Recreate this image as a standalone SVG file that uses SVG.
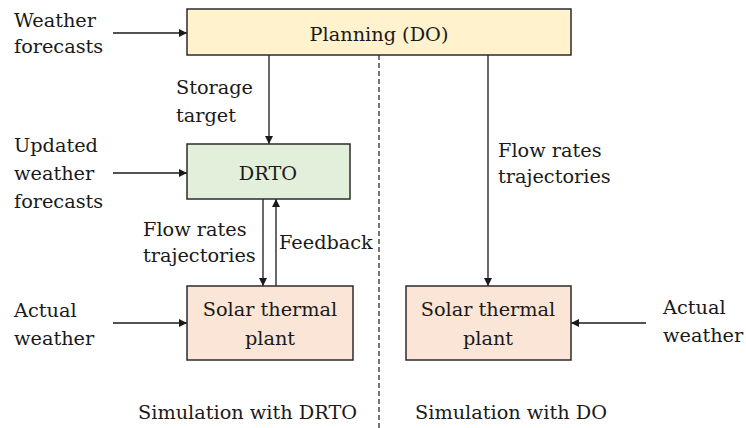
<svg xmlns="http://www.w3.org/2000/svg" width="746" height="428" viewBox="0 0 746 428">
<style>
text{font-family:"DejaVu Serif","Liberation Serif",serif;font-size:19.3px;fill:#1a1a1a}
.c{text-anchor:middle}
.box{stroke:#2b2b2b;stroke-width:1.5}
.ln{stroke:#1a1a1a;stroke-width:1.3;fill:none}
</style>
<defs>
<marker id="ah" viewBox="0 0 10 10" refX="10" refY="5" markerWidth="8" markerHeight="8" markerUnits="userSpaceOnUse" orient="auto">
<path d="M0,0 L10,5 L0,10 z" fill="#1a1a1a"/>
</marker>
</defs>
<rect width="746" height="428" fill="#fff"/>
<g id="connectors">
<line class="ln" x1="113" y1="33" x2="187" y2="33" marker-end="url(#ah)"/>
<line class="ln" x1="269" y1="55" x2="269" y2="144" marker-end="url(#ah)"/>
<line class="ln" x1="113" y1="173" x2="187" y2="173" marker-end="url(#ah)"/>
<line class="ln" x1="263" y1="199" x2="263" y2="286" marker-end="url(#ah)"/>
<line class="ln" x1="276" y1="286" x2="276" y2="199" marker-end="url(#ah)"/>
<line class="ln" x1="113" y1="323" x2="187" y2="323" marker-end="url(#ah)"/>
<line class="ln" x1="488" y1="55" x2="488" y2="286" marker-end="url(#ah)"/>
<line class="ln" x1="646" y1="323" x2="571" y2="323" marker-end="url(#ah)"/>
<line x1="379" y1="55" x2="379" y2="428" stroke="#1a1a1a" stroke-width="1.2" stroke-dasharray="5,3"/>
</g>
<g id="planning">
<rect class="box" x="187" y="9" width="384" height="46" fill="#FFF2CC"/>
<text class="c" x="379" y="41">Planning (DO)</text>
</g>
<g id="drto">
<rect class="box" x="187" y="144" width="163" height="55" fill="#E2EFDA"/>
<text class="c" x="268" y="180">DRTO</text>
</g>
<g id="plant-drto">
<rect class="box" x="187" y="286" width="166" height="74" fill="#FBE5D6"/>
<text class="c" x="270" y="316">Solar thermal</text>
<text class="c" x="270" y="345">plant</text>
</g>
<g id="plant-do">
<rect class="box" x="406" y="286" width="165" height="74" fill="#FBE5D6"/>
<text class="c" x="488" y="316">Solar thermal</text>
<text class="c" x="488" y="345">plant</text>
</g>
<g id="labels">
<text x="14" y="27">Weather</text>
<text x="14" y="53">forecasts</text>
<text x="176" y="94">Storage</text>
<text x="176" y="122">target</text>
<text x="14" y="152">Updated</text>
<text x="14" y="180">weather</text>
<text x="14" y="208">forecasts</text>
<text x="143" y="236">Flow rates</text>
<text x="143" y="262">trajectories</text>
<text x="279" y="249">Feedback</text>
<text x="14" y="317">Actual</text>
<text x="14" y="345">weather</text>
<text x="498" y="157">Flow rates</text>
<text x="498" y="183">trajectories</text>
<text x="663" y="314">Actual</text>
<text x="663" y="342">weather</text>
<text x="138" y="419">Simulation with DRTO</text>
<text x="415" y="419">Simulation with DO</text>
</g>
</svg>
